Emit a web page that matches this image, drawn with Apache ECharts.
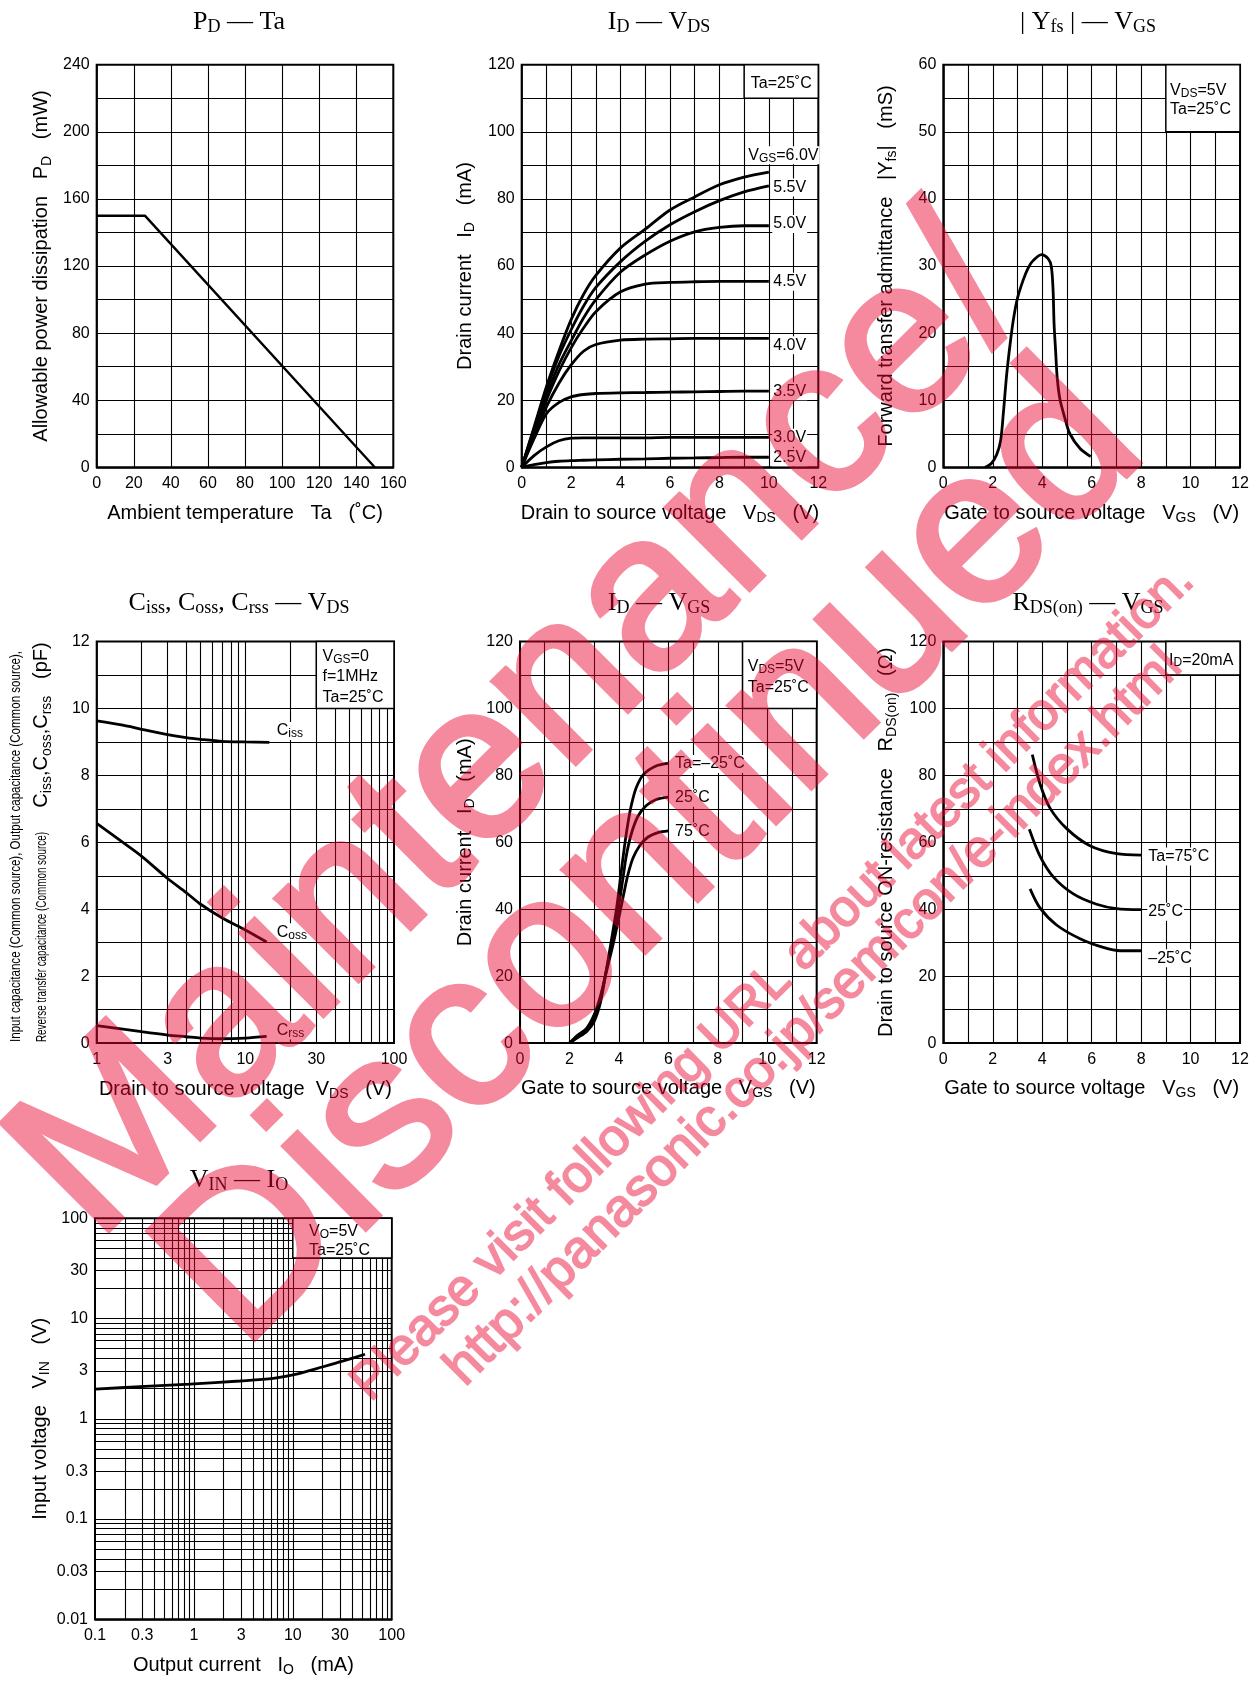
<!DOCTYPE html>
<html><head><meta charset="utf-8">
<script src="https://cdn.jsdelivr.net/npm/echarts@6/dist/echarts.min.js"></script>
<style>html,body{margin:0;padding:0;background:#fff}#c{width:1257px;height:1681px}</style>
</head><body><div id="c"></div>
<script>
// ================= DATA =================
// Chart 1: PD - Ta
const pdTemp = [0, 26, 150];
const pdPower = [150, 150, 0];

// Chart 2: ID - VDS (one array per VGS)
const vdsPoints = [0, 0.5, 1, 1.5, 2, 2.5, 3, 4, 5, 6, 7, 8, 9, 10];
const idVgs60 = [0, 12, 24, 34.5, 44, 51.5, 57.2, 65.4, 71, 76.7, 80.6, 84.2, 86.5, 88];
const idVgs55 = [0, 11.5, 23, 33, 41, 48, 53.6, 61.3, 67.4, 72.3, 76.2, 79.5, 82.1, 83.9];
const idVgs50 = [0, 11, 21.5, 30.5, 37.7, 44.5, 50, 58.2, 63.3, 67.4, 70.2, 71.5, 72, 72];
const idVgs45 = [0, 10.5, 20, 28.5, 35.6, 41.5, 46.4, 52.3, 54.6, 55.1, 55.3, 55.4, 55.4, 55.4];
const idVgs40 = [0, 9.5, 18, 25, 30.5, 34.6, 36.6, 37.9, 38.2, 38.3, 38.4, 38.4, 38.4, 38.4];
const idVgs35 = [0, 8.5, 16, 19.3, 21, 21.7, 22, 22.2, 22.3, 22.4, 22.5, 22.6, 22.7, 22.7];
const idVgs30 = [0, 3.5, 6.1, 7.9, 8.7, 8.8, 8.8, 8.8, 8.8, 8.9, 8.9, 8.9, 8.9, 8.9];
const idVgs25 = [0, 0.8, 1.4, 1.8, 2.0, 2.1, 2.2, 2.4, 2.5, 2.7, 2.8, 2.9, 3.0, 3.0];
const vgsCurveLabels = ['{m|V}{s|GS}{m|=6.0V}', '{m|5.5V}', '{m|5.0V}', '{m|4.5V}', '{m|4.0V}', '{m|3.5V}', '{m|3.0V}', '{m|2.5V}'];

// Chart 3: |Yfs| - VGS
const yfsVgs = [1.69, 1.95, 2.16, 2.32, 2.43, 2.56, 2.70, 2.83, 3.0, 3.23, 3.43, 3.63, 3.97, 4.24, 4.37, 4.44, 4.48, 4.54, 4.61, 4.72, 4.92, 5.12, 5.53, 5.96];
const yfsVal = [0, 0.6, 1.9, 4.0, 8.1, 13.7, 18.3, 21.9, 25.2, 27.9, 29.7, 30.8, 31.7, 31.1, 29.9, 26.4, 21.4, 17.5, 13.2, 10.1, 7.3, 5.0, 2.8, 1.6];

// Chart 4: Ciss, Coss, Crss - VDS
const cissVds = [1, 1.5, 2, 3, 4, 5, 7, 10, 14.5];
const cissVal = [9.63, 9.5, 9.38, 9.22, 9.13, 9.08, 9.02, 9.0, 8.99];
const cossVds = [1, 1.5, 2, 3, 4, 5, 7, 10, 13.9];
const cossVal = [6.57, 6.0, 5.59, 4.92, 4.5, 4.15, 3.74, 3.38, 3.02];
const crssVds = [1, 1.5, 2, 3, 4, 5, 7, 10, 13.9];
const crssVal = [0.52, 0.42, 0.34, 0.24, 0.19, 0.15, 0.13, 0.15, 0.2];
const capTicks = [1, 3, 10, 30, 100];

// Chart 5: ID - VGS
const vgsM25 = [2, 2.3, 2.7, 3.0, 3.25, 3.45, 3.68, 3.9, 4.09, 4.23, 4.36, 4.5, 4.7, 5.0, 5.5, 6];
const idM25  = [0, 1.5, 3.5, 6.5, 12, 20, 30, 40, 51, 59, 65.5, 71, 76.3, 80.3, 82.8, 83.6];
const vgsP25 = [2, 2.3, 2.7, 3.0, 3.25, 3.47, 3.72, 3.97, 4.16, 4.30, 4.5, 4.77, 5.11, 5.51, 6];
const idP25  = [0, 1.8, 4, 7.5, 13, 21, 30, 40, 49, 56, 62.5, 67.8, 71, 72.8, 73.5];
const vgsP75 = [2, 2.3, 2.7, 3.0, 3.25, 3.5, 3.78, 4.07, 4.23, 4.36, 4.57, 4.84, 5.18, 5.58, 6];
const idP75  = [0, 2.2, 4.5, 8.5, 14, 21.5, 30, 40, 45.8, 50.2, 55.3, 59, 61.6, 62.9, 63.4];

// Chart 6: RDS(on) - VGS
const rdsVgs75 = [3.60, 3.91, 4.31, 4.99, 5.93, 7.01, 8.0];
const rds75    = [86.2, 77.5, 70.3, 64.1, 59.0, 56.6, 56.2];
const rdsVgs25 = [3.48, 3.91, 4.45, 5.26, 6.2, 7.01, 8.0];
const rds25    = [63.9, 55.9, 49.7, 44.6, 41.5, 40.2, 39.9];
const rdsVgsM25 = [3.51, 3.91, 4.58, 5.53, 6.47, 7.15, 8.0];
const rdsM25    = [46.1, 40.4, 35.3, 31.2, 28.6, 27.6, 27.6];

// Chart 7: VIN - IO
const ioVal  = [0.1, 0.285, 0.913, 2.92, 6.35, 10.9, 20.3, 32.4, 53.7];
const vinVal = [1.97, 2.09, 2.21, 2.38, 2.53, 2.78, 3.30, 3.77, 4.40];
const ioTicks  = [0.1, 0.3, 1, 3, 10, 30, 100];
const vinTicks = [0.01, 0.03, 0.1, 0.3, 1, 3, 10, 30, 100];

// ================= STYLE / LAYOUT =================
const FONT = "'Liberation Sans', Arial, Helvetica, sans-serif";
const SERIF = "'Liberation Serif', 'Times New Roman', serif";
const WM_SOLID = 'rgb(234, 6, 49)';
const WM_ALPHA = 0.47;
const zip = (xs, ys) => xs.map((x, i) => [x, ys[i]]);

const NAME_RICH = {
  m: {fontSize: 20, fontFamily: FONT, color: '#000', lineHeight: 22},
  s: {fontSize: 14, fontFamily: FONT, color: '#000', lineHeight: 22, padding: [10, 0, 0, 0]}
};
const TITLE_RICH = {
  m: {fontSize: 26, fontFamily: SERIF, color: '#000', lineHeight: 28, fontWeight: 'normal'},
  s: {fontSize: 18, fontFamily: SERIF, color: '#000', lineHeight: 28, padding: [10, 0, 0, 0], fontWeight: 'normal'}
};
const LBL_RICH = {
  m: {fontSize: 16, fontFamily: FONT, color: '#000', lineHeight: 18},
  s: {fontSize: 12, fontFamily: FONT, color: '#000', lineHeight: 12, padding: [6, 0, 0, 0]}
};
const boxRich = lh => ({
  m: {fontSize: 16, fontFamily: FONT, color: '#000', lineHeight: lh},
  s: {fontSize: 12, fontFamily: FONT, color: '#000', lineHeight: lh - 6, padding: [6, 0, 0, 0]}
});

const grids = [
  {left: 96.7, top: 64.7, width: 296.6, height: 402.6},
  {left: 521.7, top: 64.7, width: 296.6, height: 402.6},
  {left: 943.3, top: 64.7, width: 296.7, height: 402.6},
  {left: 96.7, top: 641.6, width: 297.3, height: 401.5},
  {left: 520, top: 641.6, width: 296.7, height: 401.5},
  {left: 943.3, top: 641.6, width: 296.7, height: 401.5},
  {left: 95, top: 1218.2, width: 296.7, height: 401.1}
];

const AXLINE = {show: true, onZero: false, lineStyle: {color: '#000', width: 1.5}};
const SPLIT = {show: true, lineStyle: {color: '#000', width: 1.1, type: 'solid'}};

function linAxis(gi, isX, min, max, step, labStep, name, gap) {
  return {
    type: 'value', gridIndex: gi, min: min, max: max, interval: step,
    axisLine: AXLINE, axisTick: {show: false}, splitLine: SPLIT,
    axisLabel: {color: '#000', fontSize: 16, fontFamily: FONT, margin: isX ? 8.5 : 7, hideOverlap: false,
      formatter: v => (Math.abs(v / labStep - Math.round(v / labStep)) < 1e-6 ? String(v) : '')},
    name: name, nameLocation: 'middle', nameGap: gap, nameRotate: isX ? 0 : 90,
    nameMoveOverlap: false,
    nameTextStyle: {rich: NAME_RICH, fontSize: 20, fontFamily: FONT, color: '#000'}
  };
}
function logAxis(gi, isX, min, max, ticks, name, gap) {
  return {
    type: 'log', logBase: 10, gridIndex: gi, min: min, max: max,
    axisLine: AXLINE, axisTick: {show: false}, splitLine: {show: false},
    axisLabel: {color: '#000', fontSize: 16, fontFamily: FONT, margin: isX ? 8.5 : 7, hideOverlap: false,
      customValues: ticks, formatter: v => String(+Number(v).toPrecision(3))},
    name: name, nameLocation: 'middle', nameGap: gap, nameRotate: isX ? 0 : 90,
    nameMoveOverlap: false,
    nameTextStyle: {rich: NAME_RICH, fontSize: 20, fontFamily: FONT, color: '#000'}
  };
}
function logGrid(e0, e1) {
  const out = [];
  for (let e = e0; e < e1; e++) for (let m = 1; m <= 9; m++) {
    if (e === e0 && m === 1) continue;
    out.push(+(m * Math.pow(10, e)).toPrecision(3));
  }
  return out;
}
function gridLines(xs, ys) {
  return {silent: true, z: 1, symbol: ['none', 'none'], animation: false,
    label: {show: false}, lineStyle: {color: '#000', width: 1.1, type: 'solid'},
    emphasis: {disabled: true},
    data: [].concat(xs.map(v => ({xAxis: v})), ys.map(v => ({yAxis: v})))};
}
function box(x0, y0, x1, y1, text, pos, lh, align, valign, off) {
  return {silent: true, z: 1.5, animation: false,
    itemStyle: {color: '#fff', borderColor: '#000', borderWidth: 1.5},
    emphasis: {disabled: true},
    label: {show: true, position: pos, align: align || 'left', verticalAlign: valign || 'top', offset: off || [0, 0],
      formatter: text, rich: boxRich(lh), color: '#000', fontSize: 16, fontFamily: FONT},
    data: [[{coord: [x0, y0]}, {coord: [x1, y1]}]]};
}
function curve(gi, data, opts) {
  return Object.assign({
    type: 'line', xAxisIndex: gi, yAxisIndex: gi, data: data, symbol: 'none', silent: true, z: 3,
    smooth: 0.3, lineStyle: {color: '#000', width: 2.8}, animation: false
  }, opts || {});
}
function endLbl(text, off) {
  return {show: true, formatter: text, offset: off, distance: 4, color: '#000', fontSize: 16, fontFamily: FONT,
    backgroundColor: '#fff', padding: [0, 1, 0, 1], rich: LBL_RICH, valueAnimation: false};
}

// ---- axes ----
const xAxes = [
  linAxis(0, true, 0, 160, 20, 20, '{m|Ambient temperature   Ta   (˚C)}', 34.7),
  linAxis(1, true, 0, 12, 1, 2, '{m|Drain to source voltage   V}{s|DS}{m|   (V)}', 34.7),
  linAxis(2, true, 0, 12, 1, 2, '{m|Gate to source voltage   V}{s|GS}{m|   (V)}', 34.7),
  logAxis(3, true, 1, 100, capTicks, '{m|Drain to source voltage  V}{s|DS}{m|   (V)}', 34.9),
  linAxis(4, true, 0, 12, 1, 2, '{m|Gate to source voltage   V}{s|GS}{m|   (V)}', 34.5),
  linAxis(5, true, 0, 12, 1, 2, '{m|Gate to source voltage   V}{s|GS}{m|   (V)}', 34.5),
  logAxis(6, true, 0.1, 100, ioTicks, '{m|Output current   I}{s|O}{m|   (mA)}', 34.7)
];
const yAxes = [
  linAxis(0, false, 0, 240, 20, 40, '{m|Allowable power dissipation   P}{s|D}{m|   (mW)}', 44),
  linAxis(1, false, 0, 120, 10, 20, '{m|Drain current   I}{s|D}{m|   (mA)}', 45.7),
  linAxis(2, false, 0, 60, 5, 10, '{m|Forward transfer admittance   |Y}{s|fs}{m||   (mS)}', 45.6),
  linAxis(3, false, 0, 12, 1, 2, '', 40),
  linAxis(4, false, 0, 120, 10, 20, '{m|Drain current   I}{s|D}{m|   (mA)}', 44),
  linAxis(5, false, 0, 120, 10, 20, '{m|Drain to source ON-resistance   R}{s|DS(on)}{m|   (Ω)}', 45.6),
  logAxis(6, false, 0.01, 100, vinTicks, '{m|Input voltage   V}{s|IN}{m|   (V)}', 44)
];

// ---- series ----
const series = [];
series.push(curve(0, zip(pdTemp, pdPower), {smooth: false, lineStyle: {color: '#000', width: 2.4}}));

const vgsSets = [idVgs60, idVgs55, idVgs50, idVgs45, idVgs40, idVgs35, idVgs30, idVgs25];
const vgsOffsets = [[-25.6, -16.8], [-0.6, 1.8], [-0.6, -1.7], [-0.6, 0.2], [-0.6, 6.9], [-0.6, 0], [-0.6, 0.2], [-0.6, 0.1]];
vgsSets.forEach((ys, i) => {
  const s = curve(1, zip(vdsPoints, ys), {endLabel: endLbl(vgsCurveLabels[i], vgsOffsets[i])});
  if (i === 0) s.markArea = box(9, 110, 12, 120, '{m|Ta=25˚C}', 'inside', 18, 'center', 'middle', [0, 2]);
  series.push(s);
});

const s3 = curve(2, zip(yfsVgs, yfsVal), {smooth: 0.3});
s3.markArea = box(9, 50, 12, 60, '{m|V}{s|DS}{m|=5V}\n{m|Ta=25˚C}', [5, 17.1], 19);
series.push(s3);

const s4a = curve(3, zip(cissVds, cissVal), {endLabel: endLbl('{m|C}{s|iss}', [2.4, -11.3])});
s4a.markLine = gridLines(logGrid(0, 2), []);
s4a.markArea = box(30, 10, 100, 12, '{m|V}{s|GS}{m|=0}\n{m|f=1MHz}\n{m|Ta=25˚C}', [7, 5.5], 20.3);
series.push(s4a);
series.push(curve(3, zip(cossVds, cossVal), {endLabel: endLbl('{m|C}{s|oss}', [5.1, -9.7])}));
series.push(curve(3, zip(crssVds, crssVal), {endLabel: endLbl('{m|C}{s|rss}', [5.1, -5.9])}));

const s5a = curve(4, zip(vgsM25, idM25), {endLabel: endLbl('{m|Ta=–25˚C}', [1.7, 0.5])});
s5a.markArea = box(9, 100, 12, 120, '{m|V}{s|DS}{m|=5V}\n{m|Ta=25˚C}', [6, 15.5], 20.7);
series.push(s5a);
series.push(curve(4, zip(vgsP25, idP25), {endLabel: endLbl('{m|25˚C}', [1.7, 0.5])}));
series.push(curve(4, zip(vgsP75, idP75), {endLabel: endLbl('{m|75˚C}', [1.7, 0.5])}));

const s6a = curve(5, zip(rdsVgs75, rds75), {endLabel: endLbl('{m|Ta=75˚C}', [2.2, 1.5])});
s6a.markArea = box(9, 110, 12, 120, '{m|I}{s|D}{m|=20mA}', [4, 10.3], 18);
series.push(s6a);
series.push(curve(5, zip(rdsVgs25, rds25), {endLabel: endLbl('{m|25˚C}', [2.2, 2.1])}));
series.push(curve(5, zip(rdsVgsM25, rdsM25), {endLabel: endLbl('{m|–25˚C}', [2.2, 7.5])}));

const s7 = curve(6, zip(ioVal, vinVal), {smooth: 0.3});
s7.markLine = gridLines(logGrid(-1, 2), logGrid(-2, 2));
s7.markArea = box(10, 40, 100, 100, '{m|V}{s|O}{m|=5V}\n{m|Ta=25˚C}', [17, 5.3], 18.3);
series.push(s7);

// ---- titles ----
const titleDefs = [
  ['{m|P}{s|D}{m| — Ta}', 239, 22],
  ['{m|I}{s|D}{m| — V}{s|DS}', 659, 22],
  ['{m|| Y}{s|fs}{m| | — V}{s|GS}', 1088, 22],
  ['{m|C}{s|iss}{m|, C}{s|oss}{m|, C}{s|rss}{m| — V}{s|DS}', 239, 603],
  ['{m|I}{s|D}{m| — V}{s|GS}', 659, 603],
  ['{m|R}{s|DS(on)}{m| — V}{s|GS}', 1088, 603],
  ['{m|V}{s|IN}{m| — I}{s|O}', 239, 1180]
];

// ---- condensed label helper ----
const mctx = document.createElement('canvas').getContext('2d');
function tw(t, size) { mctx.font = size + "px 'Liberation Sans'"; return mctx.measureText(t).width; }
const capLine1 = 'Input capacitance (Common source), Output capacitance (Common source),';
const capLine2 = 'Reverse transfer capacitance (Common source)';

// watermark texts
const wmTexts = [
  ['Maintenance/', 522, 731, 45, 221, 5],
  ['Discontinued', 653, 859, 44.7, 221, 5],
  ['Please visit following URL about latest information.', 773, 982.5, 44.8, 51.8, 1.8],
  ['http://panasonic.co.jp/semicon/e-index.html', 814, 1017.5, 45, 53, 1.8]
];
function wmElements(layered) {
  return wmTexts.map(w => ({
    type: 'text', x: w[1], y: w[2], rotation: w[3] * Math.PI / 180, silent: true, z: 100, zlevel: layered ? 5 : 0,
    style: {text: w[0], fontSize: w[4], fontFamily: FONT, align: 'center', verticalAlign: 'middle',
      fill: layered ? WM_SOLID : 'rgba(234, 6, 49, 0.47)',
      stroke: layered ? WM_SOLID : null, lineWidth: layered ? w[5] : 0, lineJoin: 'round'}
  }));
}

const baseGraphics = [
  {type: 'text', x: 15.7, y: 846.5, rotation: Math.PI / 2, scaleX: 391 / tw(capLine1, 14), silent: true,
    style: {text: capLine1, fontSize: 14, fontFamily: FONT, fill: '#000', align: 'center', verticalAlign: 'middle'}},
  {type: 'text', x: 42, y: 937, rotation: Math.PI / 2, scaleX: 210 / tw(capLine2, 14), silent: true,
    style: {text: capLine2, fontSize: 14, fontFamily: FONT, fill: '#000', align: 'center', verticalAlign: 'middle'}},
  {type: 'text', x: 41.7, y: 725, rotation: Math.PI / 2, silent: true,
    style: {text: '{m|C}{s|iss}{m|,C}{s|oss}{m|,C}{s|rss}{m|   (pF)}', align: 'center', verticalAlign: 'middle',
      rich: {m: {fontSize: 20, fontFamily: FONT, fill: '#000', lineHeight: 22},
             s: {fontSize: 14, fontFamily: FONT, fill: '#000', lineHeight: 22, padding: [10, 0, 0, 0]}}}}
];

const chart = echarts.init(document.getElementById('c'), null, {renderer: 'canvas'});
let layered = false;
try {
  const painter = chart.getZr().painter;
  const layer = painter.getLayer(5);
  if (layer && layer.dom) { layer.dom.style.opacity = String(WM_ALPHA); layered = true; }
} catch (e) { layered = false; }

const option = {
  animation: false,
  backgroundColor: '#fff',
  title: titleDefs.map(d => ({text: d[0], left: d[1], top: d[2], textAlign: 'center', textVerticalAlign: 'middle', padding: 0,
    textStyle: {rich: TITLE_RICH, fontFamily: SERIF, fontSize: 26, color: '#000', fontWeight: 'normal'}})),
  grid: grids.map(g => Object.assign({show: true, borderColor: '#000', borderWidth: 2, backgroundColor: 'transparent',
    containLabel: false, outerBoundsMode: 'none'}, g)),
  xAxis: xAxes,
  yAxis: yAxes,
  series: series,
  graphic: baseGraphics.concat(wmElements(layered))
};
chart.setOption(option);
try {
  const layer = chart.getZr().painter.getLayer(5);
  if (layered && layer && layer.dom) layer.dom.style.opacity = String(WM_ALPHA);
} catch (e) {}
</script>
</body></html>
